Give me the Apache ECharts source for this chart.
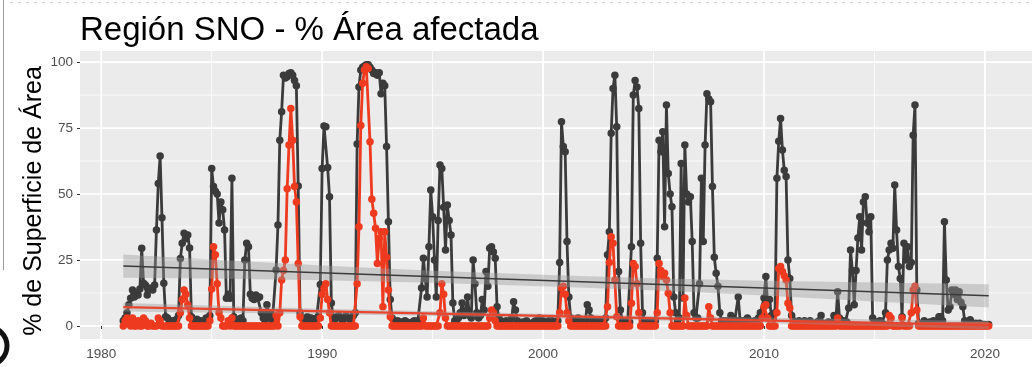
<!DOCTYPE html>
<html>
<head>
<meta charset="utf-8">
<script src="https://cdn.jsdelivr.net/npm/echarts@6/dist/echarts.min.js"></script>
<style>
html, body { margin: 0; padding: 0; background: #fff; }
#chart { width: 1032px; height: 367px; }
</style>
</head>
<body>
<div id="chart"></div>
<script>
// Monthly % of area affected (Jan..Dec per row), dark series
const gray1980s = [
  [2, 3, 5, 8, 10.5, 13.6, 11, 12.4, 11.7, 14, 29.4, 16.2],          // 1981
  [15.5, 11.7, 14.3, 14.3, 13.6, 15.5, 36.4, 54, 64.4, 41, 16.2, 3.5], // 1982
  [3, 2, 1.5, 2, 1, 2.5, 4, 25.6, 31.3, 35.1, 33, 34.5],              // 1983
  [29.5, 3.5, 2, 1.5, 2.5, 1, 2, 1.5, 2, 3, 2.5, 4],                  // 1984
  [59.7, 52.8, 51, 50, 39, 47, 44, 36.4, 10.5, 12, 10.5, 56],         // 1985
  [3.5, 2, 1.5, 2.5, 3, 2, 25, 31.3, 30, 12, 10.5, 10],               // 1986
  [11.7, 10.5, 11, 5, 3, 2, 8, 5, 3, 2, 1.5, 21.2],                   // 1987
  [38.3, 70.4, 81.2, 95, 94, 94.4, 95.7, 96, 95, 93, 91, 53],         // 1988
  [5, 3, 2, 2.5, 3.5, 2, 3, 2, 2.5, 3, 3.5, 15.7]                     // 1989
];
const gray1990s = [
  [59.7, 75.8, 75.5, 60, 49, 8.7, 3, 2.5, 3.5, 4, 3, 2],              // 1990
  [3, 4, 3, 2.5, 3, 4, 5, 69, 90.6, 97, 98, 98.5],                    // 1991
  [99, 99, 98, 97, 95.7, 96, 95, 96, 88, 92, 91, 68],                 // 1992
  [39.5, 10, 3, 2, 1.5, 2, 1, 1.5, 1, 2, 1.5, 1],                     // 1993
  [1, 1.5, 2, 1, 2, 1.5, 14.4, 25.7, 18, 11, 30, 51.5],               // 1994
  [41.4, 25, 11, 40, 61, 59.7, 45, 28.8, 45.8, 40, 34.5, 8.7],        // 1995
  [2, 1.5, 3, 5, 8.7, 4, 6, 11, 4, 3, 25, 16],                        // 1996
  [5, 3, 4, 10, 6, 20.6, 15, 29.4, 30, 28, 25.7, 7.3],                // 1997
  [3, 2, 1.5, 1, 2, 1, 1.5, 3, 9.2, 6, 2, 1],                         // 1998
  [1, 1.5, 1, 2, 1, 0.5, 1, 1.5, 2, 1, 3, 2]                          // 1999
];
const gray2000s = [
  [2, 1, 1.5, 2, 1, 2, 1, 1.5, 2, 24, 77.4, 68],                      // 2000
  [66, 32, 11, 3, 2, 1.5, 2, 3, 2, 1, 1.5, 2],                        // 2001
  [8, 6, 3, 2, 1, 2, 1.5, 1, 2, 1, 3, 27],                            // 2002
  [35.7, 73, 90, 95, 75.5, 20.6, 6, 2, 1.5, 1, 2, 1.5],               // 2003
  [30, 87.5, 93, 90.6, 82.4, 31.3, 5, 2, 1, 2, 1.5, 1],               // 2004
  [1, 2, 25.7, 70.4, 66, 73.6, 37.6, 83.7, 57.8, 50, 45.2, 11],       // 2005
  [5, 2, 3, 61.6, 10.6, 68.6, 50, 47, 49, 32, 5, 3],                  // 2006
  [3, 16, 56, 32, 68.6, 88, 86, 85, 52.8, 26, 20, 15],                // 2007
  [5, 2, 1, 2, 1, 2, 4, 3, 1.5, 2, 11, 2],                            // 2008
  [1.5, 2, 1, 3, 2, 1, 1.5, 2, 1, 3, 5, 5]                            // 2009
];
const gray2010s = [
  [10.6, 18.7, 8, 10, 4, 3, 5, 56, 70, 78.6, 66.7, 59],               // 2010
  [56.6, 25, 18, 4, 2, 1, 1.5, 2, 1, 1.5, 2, 1],                      // 2011
  [1, 2, 1, 0.5, 1, 1.5, 2, 4, 1, 0.5, 1, 1.5],                       // 2012
  [1, 0.5, 4, 2, 13, 3, 1, 2, 1, 1.5, 6.8, 28.8],                     // 2013
  [21, 8, 21, 33.3, 41.4, 28.8, 47, 49, 39, 35.7, 41.4, 3],           // 2014
  [1, 1.5, 1, 2, 1, 0.5, 5, 25, 28.8, 31.3, 29.4, 53.4],              // 2015
  [36.4, 22.5, 18, 3.5, 31.3, 25, 30, 22.5, 24, 72.3, 83.7, 13.6],    // 2016
  [1, 0.5, 1, 2, 1, 0.5, 1.5, 1, 2, 1, 1.5, 3.5],                     // 2017
  [3.5, 2, 39.5, 17.4, 6, 7.3, 13.6, 12, 13.6, 10, 13, 9],            // 2018
  [7.3, 2, 1, 1.5, 2.3, 1, 0.5, 1, 0.5, 1, 0.5, 0.5],                 // 2019
  [0.5, 0.3, 0.5]                                                     // 2020
];

// Monthly % of area affected, red series
const red1980s = [
  [0, 2, 3, 1, 0, 3, 0, 0, 2, 0, 0, 3],
  [2, 0, 0, 1, 0, 0, 0, 3, 2, 0, 0, 0],
  [0, 0, 0, 0, 0, 0, 0, 5, 10, 13.6, 12, 8],
  [3, 0, 0, 0, 0, 0, 0, 0, 0, 0, 0, 2],
  [14, 30, 27, 16, 5, 3, 0, 0, 0, 2, 0, 3],
  [0, 0, 0, 0, 0, 0, 0, 0, 0, 0, 0, 0],
  [0, 0, 0, 0, 0, 0, 0, 0, 0, 0, 0, 4],
  [0, 5, 17.4, 21, 25, 52, 68.6, 82.4, 70.4, 52.8, 47, 23.7],
  [3.5, 0, 0, 0, 0, 0, 0, 0, 0, 0, 0, 3]
];
const red1990s = [
  [12, 14.3, 16, 10, 5, 0, 0, 0, 0, 0, 0, 0],
  [0, 0, 0, 0, 0, 0, 0, 16, 37.6, 76, 92, 97],
  [98.2, 97.6, 69.8, 48, 42.7, 37, 23.7, 33.2, 35.7, 7.3, 35.7, 26],
  [13.6, 3.5, 0, 0, 0, 0, 0, 0, 0, 0, 0, 0],
  [0, 0, 0, 0, 0, 0, 0, 3, 0, 0, 0, 0],
  [0, 0, 0, 0, 5, 16, 12, 3, 0, 0, 0, 0],
  [0, 0, 0, 0, 0, 0, 0, 0, 0, 0, 0, 0],
  [0, 0, 0, 0, 0, 0, 0, 3, 6, 5, 2, 0],
  [0, 0, 0, 0, 0, 0, 0, 0, 0, 0, 0, 0],
  [0, 0, 0, 0, 0, 0, 0, 0, 0, 0, 0, 0]
];
const red2000s = [
  [0, 0, 0, 0, 0, 0, 0, 0, 0, 5, 14.4, 15],
  [12, 5, 2, 0, 0, 0, 0, 0, 0, 0, 0, 0],
  [0, 0, 0, 0, 0, 0, 0, 0, 0, 0, 0, 7.3],
  [24, 33.8, 31.3, 17.4, 3.5, 0, 0, 0, 0, 0, 0, 0],
  [8.6, 23.7, 22.5, 16, 5, 0, 0, 0, 0, 0, 0, 0],
  [0, 0, 5, 23.7, 21, 18.7, 20, 17.4, 12.4, 5, 0, 0],
  [0, 0, 0, 0, 0, 10.6, 4, 0, 0, 0, 0, 0],
  [0, 0, 0, 0, 0, 0, 7.3, 3, 0, 0, 0, 0],
  [0, 0, 0, 0, 0, 0, 0, 0, 0, 0, 0, 0],
  [0, 0, 0, 0, 0, 0, 0, 0, 0, 0, 0, 3]
];
const red2010s = [
  [7.3, 8, 3, 0, 0, 0, 0, 5, 21.8, 22.5, 20.6, 19],
  [17.4, 8.6, 6.8, 0, 0, 0, 0, 0, 0, 0, 0, 0],
  [0, 0, 0, 0, 0, 0, 0, 0, 0, 0, 0, 0],
  [0, 0, 0, 0, 3, 0, 0, 0, 0, 0, 0, 0],
  [0, 0, 0, 0, 0, 0, 0, 0, 0, 0, 0, 0],
  [0, 0, 0, 0, 0, 0, 0, 0, 4, 3, 0, 0],
  [0, 0, 0, 3, 0, 0, 0, 0, 5, 13.6, 15, 6],
  [0, 0, 0, 0, 0, 0, 0, 0, 0, 0, 0, 0],
  [0, 0, 0, 0, 0, 0, 0, 0, 0, 0, 0, 0],
  [0, 0, 0, 0, 0, 0, 0, 0, 0, 0, 0, 0],
  [0, 0, 0]
];

// Linear trends (start / end) and their confidence bands: [year, lower, upper]
const grayTrend = [[1981.0, 22.7], [2020.17, 11.4]];
const redTrend = [[1981.0, 7.1], [2020.17, 0.3]];
const grayBand = [
  [1981.0, 18.3, 27.1], [1985, 17.95, 25.15], [1990, 17.3, 22.9], [1995, 16.36, 20.96],
  [2000.6, 14.85, 19.25], [2005, 13.48, 18.08], [2010, 11.53, 17.13], [2015, 9.29, 16.49],
  [2020.17, 7.0, 15.8]
];
const redBand = [
  [1981.0, 5.5, 8.7], [1990, 4.54, 6.54], [2000.6, 2.9, 4.5], [2010, 1.07, 3.07], [2020.17, -1.3, 1.9]
];

// Axis ticks and grid lines
const xTickValues = [1980, 1990, 2000, 2010, 2020];
const xMinorValues = [1985, 1995, 2005, 2015];
const yTickValues = [0, 25, 50, 75, 100];
const yMinorValues = [12.5, 37.5, 62.5, 87.5];

const FONT = '"Liberation Sans", Arial, sans-serif';
const GRAY = '#3b3b3b';
const RED = '#ee3a1e';

function toPoints(firstYear, rows) {
  const pts = [];
  rows.forEach((row, i) => row.forEach((v, m) => pts.push([firstYear + i + m / 12, v])));
  return pts;
}
const grayPoints = [].concat(toPoints(1981, gray1980s), toPoints(1990, gray1990s),
  toPoints(2000, gray2000s), toPoints(2010, gray2010s));
const redPoints = [].concat(toPoints(1981, red1980s), toPoints(1990, red1990s),
  toPoints(2000, red2000s), toPoints(2010, red2010s));

function gridLineSeries(vertical) {
  const data = vertical
    ? xTickValues.map(v => [v, 0, 1]).concat(xMinorValues.map(v => [v, 0, 0]))
    : yTickValues.map(v => [1990, v, 1]).concat(yMinorValues.map(v => [1990, v, 0]));
  return {
    type: 'custom', silent: true, z: 0,
    encode: { x: 0, y: 1 },
    data: data,
    renderItem(params, api) {
      const cs = params.coordSys;
      const p = api.coord([api.value(0), api.value(1)]);
      const w = api.value(2) ? 1.7 : 0.8;
      const shape = vertical
        ? { x1: p[0], y1: cs.y, x2: p[0], y2: cs.y + cs.height }
        : { x1: cs.x, y1: p[1], x2: cs.x + cs.width, y2: p[1] };
      return { type: 'line', shape: shape, style: { stroke: '#ffffff', lineWidth: w } };
    }
  };
}

function bandSeries(band) {
  return {
    type: 'custom', silent: true, z: 5,
    encode: { x: 0, y: 1 },
    data: [[band[0][0], band[0][1]]],
    renderItem(params, api) {
      const upper = band.map(b => api.coord([b[0], b[2]]));
      const lower = band.slice().reverse().map(b => api.coord([b[0], b[1]]));
      return {
        type: 'polygon',
        shape: { points: upper.concat(lower) },
        style: { fill: 'rgba(153,153,153,0.4)' }
      };
    }
  };
}

function trendSeries(pts, color, width) {
  return {
    type: 'line', data: pts, z: 6, silent: true,
    symbol: 'none', lineStyle: { color: color, width: width }
  };
}

const chart = echarts.init(document.getElementById('chart'), null, { renderer: 'canvas' });
chart.setOption({
  animation: false,
  backgroundColor: '#ffffff',
  grid: {
    left: 80, top: 51, width: 960, height: 288,
    show: true, backgroundColor: '#ebebeb', borderWidth: 0
  },
  xAxis: {
    type: 'value', min: 1979.04, max: 2022.13,
    axisLine: { show: false },
    splitLine: { show: false },
    axisTick: { show: true, length: 3, lineStyle: { color: '#333333', width: 1 }, customValues: xTickValues },
    axisLabel: {
      customValues: xTickValues, margin: 8,
      color: '#4d4d4d', fontFamily: FONT, fontSize: 13.5,
      formatter: v => String(v)
    }
  },
  yAxis: {
    type: 'value', min: -4.95, max: 104.2,
    axisLine: { show: false },
    splitLine: { show: false },
    axisTick: { show: true, length: 3, lineStyle: { color: '#333333', width: 1 }, customValues: yTickValues },
    axisLabel: {
      customValues: yTickValues, margin: 7,
      color: '#4d4d4d', fontFamily: FONT, fontSize: 13.5,
      formatter: v => String(v)
    }
  },
  graphic: [
    { type: 'text', x: 80, y: 31, style: {
        text: 'Región SNO - % Área afectada', font: '33px ' + FONT, fill: '#000000',
        textAlign: 'left', textVerticalAlign: 'middle' } },
    { type: 'text', x: 34, y: 201, rotation: Math.PI / 2, style: {
        text: '% de Superficie de Área', font: '25px ' + FONT, fill: '#000000',
        textAlign: 'center', textVerticalAlign: 'middle' } },
    { type: 'line', shape: { x1: 3.5, y1: 0, x2: 3.5, y2: 270 }, style: { stroke: '#9a9a9a', lineWidth: 1 } },
    { type: 'line', shape: { x1: 10, y1: 2.5, x2: 1032, y2: 2.5 }, style: { stroke: '#cfcfcf', lineWidth: 1, lineDash: [3, 5] } },
    { type: 'arc', shape: { cx: -12, cy: 346, r: 19, startAngle: -Math.PI / 2, endAngle: Math.PI / 2 },
      style: { stroke: '#111111', lineWidth: 5, fill: null } }
  ],
  series: [
    gridLineSeries(true),
    gridLineSeries(false),
    {
      type: 'line', data: grayPoints, z: 2,
      symbol: 'circle', symbolSize: 7.5,
      itemStyle: { color: GRAY },
      lineStyle: { color: GRAY, width: 2.8 }
    },
    {
      type: 'line', data: redPoints, z: 3,
      symbol: 'circle', symbolSize: 7.5,
      itemStyle: { color: RED },
      lineStyle: { color: RED, width: 2.8 }
    },
    bandSeries(grayBand),
    trendSeries(grayTrend, '#3b3b3b', 1.5),
    bandSeries(redBand),
    trendSeries(redTrend, '#e8442e', 2.2)
  ]
});
</script>
</body>
</html>
